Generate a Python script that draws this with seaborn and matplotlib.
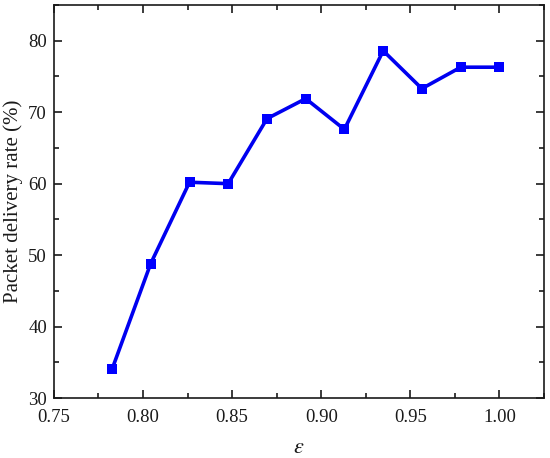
import matplotlib
matplotlib.use("Agg")
import matplotlib.pyplot as plt
import seaborn as sns
import pandas as pd
from matplotlib.ticker import MultipleLocator

epsilon = [0.7826, 0.8043, 0.8261, 0.8478, 0.8696, 0.8913, 0.9130, 0.9348, 0.9565, 0.9783, 1.0000]
delivery_rate = [34.0, 48.8, 60.2, 60.0, 69.1, 71.9, 67.6, 78.6, 73.3, 76.3, 76.3]
x_ticks = [0.75, 0.80, 0.85, 0.90, 0.95, 1.00]
x_tick_labels = ["0.75", "0.80", "0.85", "0.90", "0.95", "1.00"]
y_ticks = [30, 40, 50, 60, 70, 80]

df = pd.DataFrame({"epsilon": epsilon, "rate": delivery_rate})

sns.set_theme(style="ticks")
plt.rcParams['font.family'] = ['Liberation Serif', 'DejaVu Serif']
plt.rcParams['mathtext.fontset'] = 'stix'

fig, ax = plt.subplots(figsize=(5.5, 4.58), dpi=100)
sns.lineplot(data=df, x="epsilon", y="rate", ax=ax, color="#0000f0",
             linewidth=2.6, marker="s", markersize=7.5, markeredgewidth=0,
             markerfacecolor="#0000ff")

ax.set_xlim(0.75, 1.025)
ax.set_ylim(30, 85)
ax.set_xticks(x_ticks)
ax.set_xticklabels(x_tick_labels)
ax.set_yticks(y_ticks)
ax.xaxis.set_minor_locator(MultipleLocator(0.025))
ax.yaxis.set_minor_locator(MultipleLocator(5))

ax.tick_params(which="both", direction="in", top=True, right=True, colors="#1a1a1a",
               labelcolor="#1a1a1a")
ax.tick_params(which="major", length=6, width=1.2, labelsize=13.5)
ax.tick_params(axis="y", which="major", pad=5)
ax.tick_params(axis="x", which="major", pad=8)
ax.tick_params(which="minor", length=3.5, width=1.2)
for sp in ax.spines.values():
    sp.set_linewidth(1.2)
    sp.set_color("#1a1a1a")

ax.set_xlabel(r"$\varepsilon$", fontsize=16, labelpad=9, color="#1a1a1a")
ax.set_ylabel("Packet delivery rate (%)", fontsize=15, labelpad=4, color="#1a1a1a")

fig.subplots_adjust(left=0.098, right=0.989, top=0.989, bottom=0.131)
fig.savefig("out.png", dpi=100)
